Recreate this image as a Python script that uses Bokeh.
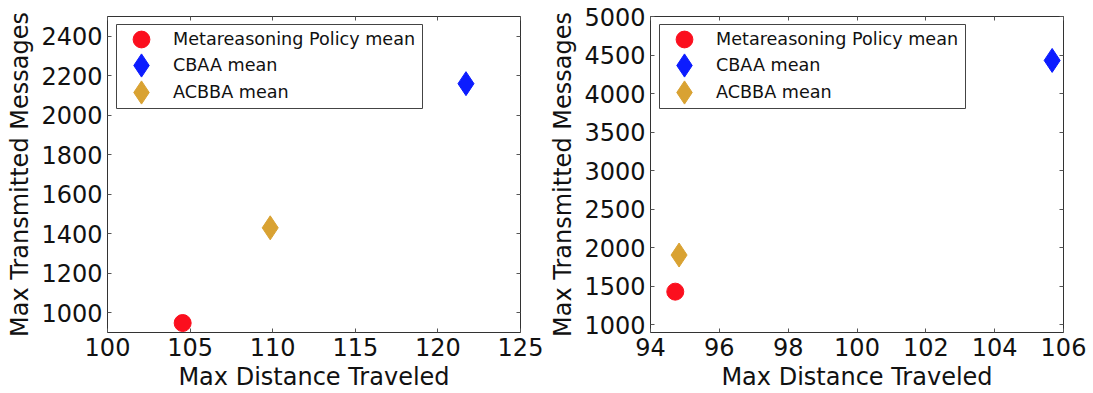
from bokeh.plotting import figure
from bokeh.layouts import row
from bokeh.models import FixedTicker, LinearAxis, Range1d, BoxAnnotation, Legend, LegendItem
from bokeh.embed import file_html
from bokeh.resources import INLINE

# ---- data ----
series_labels = ["Metareasoning Policy mean", "CBAA mean", "ACBBA mean"]
series_colors = ["#fb0f1e", "#0c1cff", "#d9a232"]
series_markers = ["circle", "diamond", "diamond"]
series_sizes = [17, 24, 24]

left_x = [104.55, 121.7, 109.85]
left_y = [948, 2160, 1430]
left_xticks = [100, 105, 110, 115, 120, 125]
left_yticks = [1000, 1200, 1400, 1600, 1800, 2000, 2200, 2400]

right_x = [94.72, 105.67, 94.83]
right_y = [1430, 4430, 1905]
right_xticks = [94, 96, 98, 100, 102, 104, 106]
right_yticks = [1000, 1500, 2000, 2500, 3000, 3500, 4000, 4500, 5000]

FONT = "DejaVu Sans"
TOP = 16
FRAME_H = 318

# legend rows: glyph box size, offsets inside the frame
LEG_GLYPH = [42, 58, 58]
LEG_X = [13, 5, 5]
LEG_TOP = [4.3, 22.3, 48.6]
LEG_STANDOFF = [11, 3, 3]


def make_panel(xs, ys, xr, yr, xticks, yticks, width, border_left, border_right):
    p = figure(width=width, height=393, output_backend="svg", toolbar_location=None,
               x_range=Range1d(*xr), y_range=Range1d(*yr),
               min_border_left=border_left, min_border_right=border_right,
               min_border_top=TOP, min_border_bottom=393 - TOP - FRAME_H)
    p.grid.visible = False
    p.outline_line_color = "#333333"
    p.outline_line_width = 1
    p.background_fill_color = "white"
    p.border_fill_color = "white"

    for ax in (p.xaxis[0], p.yaxis[0]):
        ax.major_tick_in = 4
        ax.major_tick_out = 0
        ax.minor_tick_line_color = None
        ax.axis_line_color = None
        ax.major_tick_line_color = "#555555"
        ax.major_label_text_font = FONT
        ax.major_label_text_font_size = "24px"
        ax.major_label_text_color = "#111111"
        ax.axis_label_text_font = FONT
        ax.axis_label_text_font_size = "24px"
        ax.axis_label_text_font_style = "normal"
        ax.axis_label_text_color = "#111111"
    p.xaxis[0].ticker = FixedTicker(ticks=xticks)
    p.yaxis[0].ticker = FixedTicker(ticks=yticks)
    p.xaxis[0].axis_label = "Max Distance Traveled"
    p.yaxis[0].axis_label = "Max Transmitted Messages"
    p.xaxis[0].major_label_standoff = 5
    p.yaxis[0].major_label_standoff = 5
    p.xaxis[0].axis_label_standoff = 4
    p.yaxis[0].axis_label_standoff = 4

    # mirrored inward ticks on top and right (no labels)
    for loc, tk in (("above", xticks), ("right", yticks)):
        ax = LinearAxis(ticker=FixedTicker(ticks=tk))
        ax.major_tick_in = 4
        ax.major_tick_out = 0
        ax.minor_tick_line_color = None
        ax.axis_line_color = None
        ax.major_tick_line_color = "#555555"
        ax.major_label_text_color = None
        ax.major_label_text_font_size = "1px"
        ax.major_label_standoff = 0
        p.add_layout(ax, loc)

    # legend frame
    box = BoxAnnotation(left=border_left + 9, right=border_left + 315,
                        top=TOP + 8, bottom=TOP + 92,
                        left_units="canvas", right_units="canvas",
                        top_units="canvas", bottom_units="canvas",
                        fill_alpha=0, line_color="#444444", line_width=1,
                        line_alpha=1)
    p.add_layout(box)

    for i in range(len(series_labels)):
        r = p.scatter([xs[i]], [ys[i]], marker=series_markers[i], size=series_sizes[i],
                      fill_color=series_colors[i], line_color=series_colors[i])
        g = LEG_GLYPH[i]
        vy = round(FRAME_H - LEG_TOP[i] - g)
        lg = Legend(items=[LegendItem(label=series_labels[i], renderers=[r])],
                    location=(LEG_X[i], vy), margin=0, padding=0,
                    glyph_width=g, glyph_height=g, label_standoff=LEG_STANDOFF[i],
                    label_height=20, label_width=200,
                    label_text_font=FONT, label_text_font_size="17.6px",
                    label_text_color="#111111",
                    border_line_color=None, background_fill_alpha=0)
        p.add_layout(lg, "center")
    return p


p1 = make_panel(left_x, left_y, (100, 125), (900, 2500), left_xticks, left_yticks,
                545, 107, 25)
p2 = make_panel(right_x, right_y, (94, 106), (900, 5000), right_xticks, right_yticks,
                548, 105, 30)

p = row(p1, p2)
open("out.html", "w").write(file_html(p, INLINE))
